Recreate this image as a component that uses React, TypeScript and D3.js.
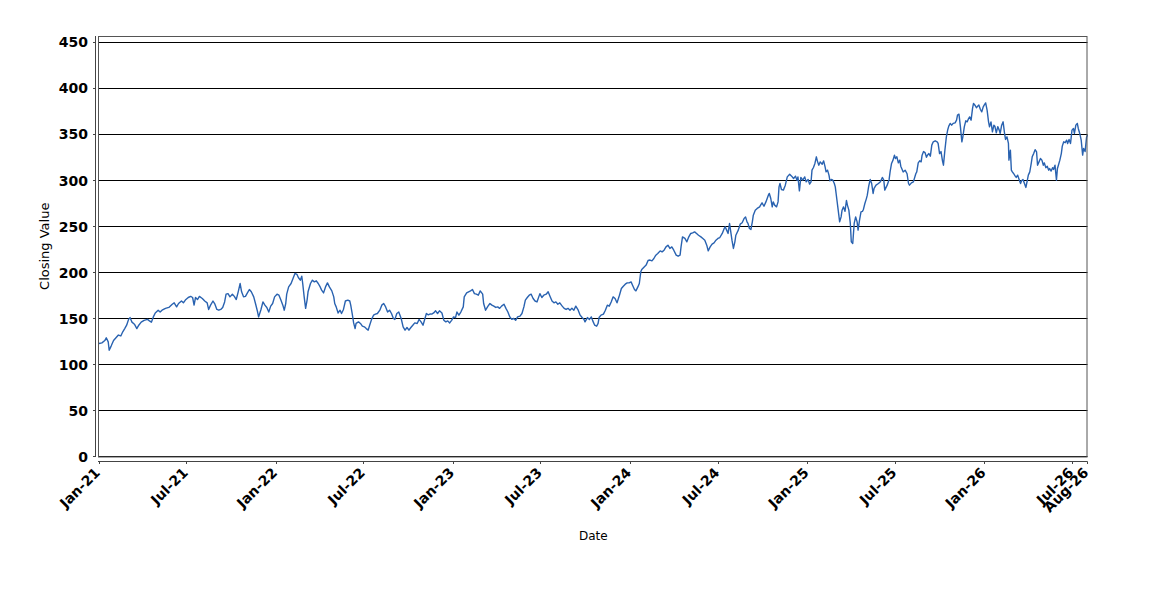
import * as d3 from 'd3';

// Closing values, grouped by year: [date, close]
const closes2021: [string, number][] = [
  ['2021-01-01', 122.8], ['2021-01-07', 123.5], ['2021-01-13', 126], ['2021-01-16', 129], ['2021-01-20', 124.6],
  ['2021-01-22', 115.5], ['2021-01-26', 120], ['2021-01-31', 126], ['2021-02-05', 129], ['2021-02-10', 132],
  ['2021-02-15', 131], ['2021-02-19', 135.5], ['2021-02-23', 139], ['2021-02-27', 142.7], ['2021-03-03', 149],
  ['2021-03-06', 151], ['2021-03-10', 146], ['2021-03-15', 143.8], ['2021-03-20', 139], ['2021-03-24', 142.7],
  ['2021-03-29', 146], ['2021-04-04', 148], ['2021-04-11', 149], ['2021-04-15', 147.4], ['2021-04-19', 146],
  ['2021-04-23', 151.7], ['2021-04-27', 156], ['2021-05-03', 159], ['2021-05-07', 157], ['2021-05-11', 159],
  ['2021-05-18', 161], ['2021-05-25', 162], ['2021-06-01', 165.5], ['2021-06-05', 167], ['2021-06-10', 162.6],
  ['2021-06-14', 166.3], ['2021-06-20', 169], ['2021-06-24', 167], ['2021-06-28', 170], ['2021-07-04', 172.8],
  ['2021-07-09', 174], ['2021-07-13', 172.8], ['2021-07-16', 164.5], ['2021-07-19', 172.8], ['2021-07-23', 170.6],
  ['2021-07-27', 174], ['2021-08-02', 171.7], ['2021-08-07', 169], ['2021-08-12', 167], ['2021-08-15', 159.8],
  ['2021-08-19', 164.5], ['2021-08-24', 169], ['2021-08-28', 165.5], ['2021-09-01', 159.8], ['2021-09-05', 159],
  ['2021-09-09', 159.8], ['2021-09-13', 162], ['2021-09-17', 168], ['2021-09-20', 176.4], ['2021-09-24', 177],
  ['2021-09-28', 173.5], ['2021-10-03', 176.4], ['2021-10-07', 174], ['2021-10-11', 170.6], ['2021-10-15', 179],
  ['2021-10-19', 188], ['2021-10-22', 179], ['2021-10-26', 173.5], ['2021-10-30', 174], ['2021-11-03', 177.8],
  ['2021-11-07', 181.5], ['2021-11-11', 179], ['2021-11-16', 173.5], ['2021-11-20', 165.5], ['2021-11-24', 157],
  ['2021-11-26', 151.7], ['2021-12-01', 159.8], ['2021-12-05', 168], ['2021-12-09', 164.5], ['2021-12-13', 162],
  ['2021-12-17', 157], ['2021-12-21', 163.4], ['2021-12-25', 166.3], ['2021-12-29', 173.5],
];

const closes2022: [string, number][] = [
  ['2022-01-03', 176.4], ['2022-01-07', 175.3], ['2022-01-11', 170], ['2022-01-15', 164.5], ['2022-01-18', 159],
  ['2022-01-21', 166.3], ['2022-01-23', 176.4], ['2022-01-27', 184.3], ['2022-02-01', 188], ['2022-02-05', 193.5],
  ['2022-02-09', 199], ['2022-02-13', 198], ['2022-02-16', 194.5], ['2022-02-20', 191.6], ['2022-02-23', 196],
  ['2022-02-25', 188], ['2022-02-28', 173.5], ['2022-03-03', 161], ['2022-03-06', 170], ['2022-03-08', 179],
  ['2022-03-13', 188], ['2022-03-17', 191.6], ['2022-03-21', 189.8], ['2022-03-25', 190.9], ['2022-03-29', 188],
  ['2022-04-02', 184.3], ['2022-04-05', 180.8], ['2022-04-09', 177.8], ['2022-04-13', 184.3], ['2022-04-17', 188.7],
  ['2022-04-21', 184.3], ['2022-04-26', 180], ['2022-04-30', 173.5], ['2022-05-02', 166.3], ['2022-05-05', 162.6],
  ['2022-05-09', 156], ['2022-05-13', 159], ['2022-05-16', 155.4], ['2022-05-20', 159.8], ['2022-05-24', 169],
  ['2022-05-29', 170], ['2022-06-02', 169], ['2022-06-04', 164.5], ['2022-06-07', 155.4], ['2022-06-10', 145.2],
  ['2022-06-13', 139], ['2022-06-15', 144.6], ['2022-06-20', 146.3], ['2022-06-24', 144.6], ['2022-06-28', 141.6],
  ['2022-07-02', 140.9], ['2022-07-06', 139], ['2022-07-10', 137.3], ['2022-07-13', 142.7], ['2022-07-17', 149],
  ['2022-07-21', 153.6], ['2022-07-25', 154.7], ['2022-07-29', 155.4], ['2022-08-03', 159], ['2022-08-07', 164.5],
  ['2022-08-11', 166.3], ['2022-08-15', 162.6], ['2022-08-19', 157], ['2022-08-23', 159], ['2022-08-27', 155.4],
  ['2022-08-31', 150], ['2022-09-03', 149], ['2022-09-07', 155.4], ['2022-09-11', 157], ['2022-09-16', 150],
  ['2022-09-20', 140.9], ['2022-09-24', 137.3], ['2022-09-28', 140.2], ['2022-10-02', 137.3], ['2022-10-06', 140.2],
  ['2022-10-10', 142.7], ['2022-10-14', 145.2], ['2022-10-19', 144.6], ['2022-10-23', 149], ['2022-10-27', 146.3],
  ['2022-10-31', 142.7], ['2022-11-03', 148], ['2022-11-07', 155.4], ['2022-11-11', 154], ['2022-11-15', 155],
  ['2022-11-18', 154.7], ['2022-11-22', 156], ['2022-11-26', 158.3], ['2022-11-30', 155.4], ['2022-12-04', 158.3],
  ['2022-12-09', 156], ['2022-12-13', 148], ['2022-12-17', 146.3], ['2022-12-21', 147.4], ['2022-12-25', 145.2],
  ['2022-12-29', 148],
];

const closes2023: [string, number][] = [
  ['2023-01-02', 151.7], ['2023-01-06', 151], ['2023-01-09', 157], ['2023-01-13', 153.6], ['2023-01-17', 157],
  ['2023-01-22', 162.6], ['2023-01-24', 173.5], ['2023-01-29', 177.8], ['2023-02-02', 179], ['2023-02-06', 180],
  ['2023-02-10', 181.5], ['2023-02-14', 177], ['2023-02-18', 176.4], ['2023-02-22', 175.3], ['2023-02-26', 180],
  ['2023-03-03', 176.4], ['2023-03-05', 166.3], ['2023-03-09', 159], ['2023-03-14', 163.4], ['2023-03-18', 166.3],
  ['2023-03-22', 164.5], ['2023-03-26', 163.4], ['2023-03-30', 162], ['2023-04-03', 162.6], ['2023-04-07', 161],
  ['2023-04-11', 163.4], ['2023-04-16', 165.5], ['2023-04-20', 161], ['2023-04-24', 157], ['2023-04-28', 151.7],
  ['2023-05-02', 149], ['2023-05-06', 150], ['2023-05-10', 148], ['2023-05-14', 151.7], ['2023-05-19', 152.5],
  ['2023-05-23', 155.4], ['2023-05-27', 162.6], ['2023-05-30', 170], ['2023-06-03', 172.8], ['2023-06-07', 175.3],
  ['2023-06-11', 176.4], ['2023-06-15', 171.7], ['2023-06-19', 169], ['2023-06-23', 168], ['2023-06-29', 177],
  ['2023-07-03', 172.8], ['2023-07-07', 175.3], ['2023-07-12', 176.4], ['2023-07-16', 179], ['2023-07-20', 174],
  ['2023-07-24', 169], ['2023-07-28', 167], ['2023-08-01', 168], ['2023-08-05', 165.5], ['2023-08-09', 167],
  ['2023-08-14', 163.4], ['2023-08-18', 161], ['2023-08-22', 159.8], ['2023-08-26', 161], ['2023-08-30', 159],
  ['2023-09-03', 161], ['2023-09-07', 159], ['2023-09-11', 163.4], ['2023-09-16', 159], ['2023-09-20', 153.6],
  ['2023-09-24', 151], ['2023-09-28', 149], ['2023-09-30', 146.3], ['2023-10-05', 151], ['2023-10-09', 149],
  ['2023-10-13', 151.7], ['2023-10-16', 147.4], ['2023-10-20', 142.7], ['2023-10-24', 141.6], ['2023-10-27', 144.6],
  ['2023-10-29', 151], ['2023-11-02', 153.6], ['2023-11-07', 154.7], ['2023-11-11', 159], ['2023-11-15', 164.5],
  ['2023-11-19', 163.4], ['2023-11-23', 168], ['2023-11-27', 173.5], ['2023-12-01', 171.7], ['2023-12-05', 167],
  ['2023-12-10', 175.3], ['2023-12-14', 182.6], ['2023-12-18', 185.1], ['2023-12-22', 187.3], ['2023-12-26', 188.7],
  ['2023-12-30', 188.7],
];

const closes2024: [string, number][] = [
  ['2024-01-03', 189.8], ['2024-01-06', 186.2], ['2024-01-10', 181.5], ['2024-01-13', 180], ['2024-01-17', 184.3],
  ['2024-01-20', 188], ['2024-01-23', 200.7], ['2024-01-25', 203.3], ['2024-01-30', 206], ['2024-02-03', 208],
  ['2024-02-07', 213], ['2024-02-11', 213.5], ['2024-02-15', 212.6], ['2024-02-19', 215.2], ['2024-02-23', 218.8],
  ['2024-02-27', 220.6], ['2024-03-03', 223.5], ['2024-03-07', 222.4], ['2024-03-11', 224.2], ['2024-03-15', 227.8],
  ['2024-03-19', 229.7], ['2024-03-23', 226.1], ['2024-03-27', 227.8], ['2024-03-31', 224.2], ['2024-04-05', 218.8],
  ['2024-04-09', 217.7], ['2024-04-13', 218.8], ['2024-04-15', 227.8], ['2024-04-18', 238.7], ['2024-04-23', 237],
  ['2024-04-27', 233.3], ['2024-05-01', 238.7], ['2024-05-05', 242.4], ['2024-05-09', 243], ['2024-05-13', 244.1],
  ['2024-05-17', 242.4], ['2024-05-21', 240.5], ['2024-05-26', 238.7], ['2024-05-30', 237], ['2024-06-03', 235.1],
  ['2024-06-07', 229.7], ['2024-06-10', 223.5], ['2024-06-14', 227.8], ['2024-06-18', 230.8], ['2024-06-22', 232.2],
  ['2024-06-26', 235.1], ['2024-06-30', 237], ['2024-07-04', 238], ['2024-07-09', 242.4], ['2024-07-13', 247.8],
  ['2024-07-15', 249.7], ['2024-07-18', 246], ['2024-07-21', 242.4], ['2024-07-24', 253.3], ['2024-07-26', 246],
  ['2024-07-29', 235.1], ['2024-08-01', 226.1], ['2024-08-04', 233.3], ['2024-08-06', 240.5], ['2024-08-11', 246],
  ['2024-08-15', 252.5], ['2024-08-19', 254], ['2024-08-23', 258.7], ['2024-08-26', 260.4], ['2024-08-29', 255],
  ['2024-08-31', 253.3], ['2024-09-03', 247.8], ['2024-09-06', 246.7], ['2024-09-09', 255], ['2024-09-11', 262.3],
  ['2024-09-15', 267.7], ['2024-09-19', 269.6], ['2024-09-24', 271.3], ['2024-09-26', 273.2], ['2024-09-29', 275.7],
  ['2024-10-03', 272], ['2024-10-07', 276.7], ['2024-10-12', 284], ['2024-10-14', 285.9], ['2024-10-17', 280.4],
  ['2024-10-20', 271.3], ['2024-10-22', 276.7], ['2024-10-25', 273.2], ['2024-10-29', 271.3], ['2024-11-01', 276.7],
  ['2024-11-03', 293], ['2024-11-05', 296.7], ['2024-11-08', 290.2], ['2024-11-12', 289.5], ['2024-11-16', 294.9],
  ['2024-11-20', 303.9], ['2024-11-25', 306.8], ['2024-11-29', 304.7], ['2024-12-03', 302.2], ['2024-12-07', 304.7],
  ['2024-12-10', 300.3], ['2024-12-12', 303.9], ['2024-12-15', 288.7], ['2024-12-18', 303.3], ['2024-12-22', 300.3],
  ['2024-12-26', 303.9], ['2024-12-29', 298.5],
];

const closes2025: [string, number][] = [
  ['2025-01-02', 301.1], ['2025-01-05', 296], ['2025-01-08', 298.5], ['2025-01-10', 311.2], ['2025-01-13', 314.1],
  ['2025-01-16', 318.5], ['2025-01-19', 325.7], ['2025-01-21', 321.3], ['2025-01-24', 316.6], ['2025-01-27', 320.2],
  ['2025-01-31', 317.7], ['2025-02-03', 321.3], ['2025-02-06', 314.8], ['2025-02-08', 309.3], ['2025-02-11', 311.2],
  ['2025-02-14', 305.8], ['2025-02-16', 299.6], ['2025-02-19', 301.1], ['2025-02-22', 300.3], ['2025-02-25', 296.7],
  ['2025-02-27', 293], ['2025-03-02', 280.4], ['2025-03-05', 267.7], ['2025-03-08', 255], ['2025-03-11', 260.4],
  ['2025-03-13', 267.7], ['2025-03-16', 271.3], ['2025-03-19', 266.4], ['2025-03-22', 278.2], ['2025-03-24', 273.2],
  ['2025-03-27', 267.7], ['2025-03-30', 253.3], ['2025-04-01', 233.3], ['2025-04-04', 231.5], ['2025-04-07', 253.3],
  ['2025-04-10', 260.4], ['2025-04-13', 255], ['2025-04-15', 246], ['2025-04-18', 256.8], ['2025-04-21', 265.9],
  ['2025-04-24', 266.4], ['2025-04-26', 268.5], ['2025-04-29', 275], ['2025-05-02', 280], ['2025-05-04', 284],
  ['2025-05-07', 294], ['2025-05-10', 301.1], ['2025-05-13', 296.7], ['2025-05-16', 285.9], ['2025-05-18', 291.3],
  ['2025-05-22', 294.9], ['2025-05-27', 296.7], ['2025-05-31', 298.5], ['2025-06-04', 303.3], ['2025-06-07', 300.3],
  ['2025-06-09', 289.5], ['2025-06-14', 294.9], ['2025-06-18', 301.1], ['2025-06-20', 309.3], ['2025-06-23', 318.5],
  ['2025-06-26', 322.1], ['2025-06-29', 327.5], ['2025-07-01', 323.9], ['2025-07-04', 325.7], ['2025-07-07', 319.1],
  ['2025-07-10', 322.1], ['2025-07-12', 315.5], ['2025-07-17', 309.3], ['2025-07-21', 311.2], ['2025-07-25', 307.3],
  ['2025-07-28', 296.7], ['2025-07-30', 294.9], ['2025-08-03', 297.4], ['2025-08-07', 298.5], ['2025-08-12', 307.3],
  ['2025-08-14', 309.3], ['2025-08-17', 319.1], ['2025-08-20', 321.3], ['2025-08-23', 320.2], ['2025-08-25', 327.5],
  ['2025-08-28', 331.4], ['2025-08-31', 330.3], ['2025-09-03', 325.3], ['2025-09-05', 327.5], ['2025-09-08', 329.2],
  ['2025-09-11', 326.4], ['2025-09-14', 338.4], ['2025-09-17', 342], ['2025-09-21', 343.1], ['2025-09-25', 342],
  ['2025-09-27', 340.2], ['2025-09-30', 329.2], ['2025-10-03', 331.4], ['2025-10-06', 321.3], ['2025-10-08', 316.6],
  ['2025-10-11', 333], ['2025-10-14', 347.4], ['2025-10-17', 355.4], ['2025-10-19', 359], ['2025-10-22', 362],
  ['2025-10-25', 360.1], ['2025-10-28', 362], ['2025-11-01', 362.6], ['2025-11-04', 365.5], ['2025-11-06', 371],
  ['2025-11-09', 372.1], ['2025-11-12', 358.3], ['2025-11-15', 342], ['2025-11-17', 347.4], ['2025-11-20', 358.3],
  ['2025-11-23', 364.8], ['2025-11-26', 363.7], ['2025-11-28', 366.3], ['2025-12-01', 369.1], ['2025-12-04', 365.5],
  ['2025-12-07', 378.3], ['2025-12-09', 383.7], ['2025-12-12', 381.8], ['2025-12-15', 379], ['2025-12-18', 381],
  ['2025-12-20', 382], ['2025-12-23', 377.4], ['2025-12-26', 374.6], ['2025-12-29', 380], ['2025-12-31', 381.8],
];

const closes2026: [string, number][] = [
  ['2026-01-03', 384.3], ['2026-01-06', 376.4], ['2026-01-09', 363.7], ['2026-01-11', 358.3], ['2026-01-14', 363.7],
  ['2026-01-17', 352.8], ['2026-01-20', 360.1], ['2026-01-22', 359], ['2026-01-25', 351.7], ['2026-01-28', 358.5],
  ['2026-01-31', 354.7], ['2026-02-02', 351.1], ['2026-02-05', 360.1], ['2026-02-08', 363.7], ['2026-02-11', 351.1],
  ['2026-02-13', 344.6], ['2026-02-16', 347.4], ['2026-02-19', 340.2], ['2026-02-20', 322.1], ['2026-02-23', 333],
  ['2026-02-25', 311.2], ['2026-02-27', 309.3], ['2026-03-02', 307.3], ['2026-03-05', 304.7], ['2026-03-07', 303.3],
  ['2026-03-10', 305.8], ['2026-03-13', 301.1], ['2026-03-16', 296.7], ['2026-03-18', 299.6], ['2026-03-21', 301.1],
  ['2026-03-24', 296.7], ['2026-03-27', 292.4], ['2026-03-30', 300.3], ['2026-04-01', 305.8], ['2026-04-04', 309.3],
  ['2026-04-07', 318.5], ['2026-04-09', 325.7], ['2026-04-12', 329.2], ['2026-04-15', 333.5], ['2026-04-18', 331],
  ['2026-04-20', 316.6], ['2026-04-23', 320.2], ['2026-04-26', 323.9], ['2026-04-29', 322.1], ['2026-05-02', 316.6],
  ['2026-05-04', 319.1], ['2026-05-07', 313.9], ['2026-05-10', 315.5], ['2026-05-13', 311.2], ['2026-05-15', 313],
  ['2026-05-18', 310.2], ['2026-05-21', 313.9], ['2026-05-23', 312], ['2026-05-26', 316.6], ['2026-05-29', 300.3],
  ['2026-05-31', 313], ['2026-06-02', 316.6], ['2026-06-05', 322.1], ['2026-06-08', 329.2], ['2026-06-10', 337.3],
  ['2026-06-13', 342], ['2026-06-16', 341.1], ['2026-06-19', 343.8], ['2026-06-21', 340.2], ['2026-06-24', 344.6],
  ['2026-06-27', 340.2], ['2026-06-30', 354.7], ['2026-07-03', 356.5], ['2026-07-05', 351.1], ['2026-07-08', 360.1],
  ['2026-07-11', 362], ['2026-07-13', 356.5], ['2026-07-16', 351.1], ['2026-07-19', 343.8], ['2026-07-22', 327.5],
  ['2026-07-24', 334.8], ['2026-07-27', 331.4], ['2026-07-30', 346.6], ['2026-08-01', 349.3],
];

const yTicks = [0, 50, 100, 150, 200, 250, 300, 350, 400, 450];
const yMax = 457;
const xTickDates = [
  '2021-01-01', '2021-07-01', '2022-01-01', '2022-07-01', '2023-01-01', '2023-07-01', '2024-01-01',
  '2024-07-01', '2025-01-01', '2025-07-01', '2026-01-01', '2026-07-01', '2026-08-01',
];

// plot box in page pixels (svg is pinned to the page corner)
const plot = { left: 99, right: 1087.5, top: 36, bottom: 456.5 };

type Point = { date: Date; value: number };

export default function App() {
  const parse = d3.timeParse('%Y-%m-%d');
  const series: Point[] = [...closes2021, ...closes2022, ...closes2023, ...closes2024, ...closes2025, ...closes2026]
    .map(([d, v]) => ({ date: parse(d) as Date, value: v }));

  const x = d3.scaleTime()
    .domain(d3.extent(series, d => d.date) as [Date, Date])
    .range([plot.left, plot.right]);
  const y = d3.scaleLinear().domain([0, yMax]).range([plot.bottom, plot.top]);

  const linePath = d3.line<Point>()
    .x(d => x(d.date))
    .y(d => y(d.value))(series) || '';

  const fmt = d3.timeFormat('%b-%y');
  const crisp = (v: number) => Math.floor(v) + 0.5;
  const axisX = 95.5;
  const axisY = 461.5;
  const tickFont = { fontFamily: "'DejaVu Sans', sans-serif", fontSize: 14, fontWeight: 'bold' as const, fill: '#000' };

  return (
    <svg
      width={1150}
      height={600}
      style={{ position: 'absolute', left: 0, top: 0, background: '#fff' }}
    >
      {/* gridlines */}
      {yTicks.map(t => (
        <line key={`g${t}`} x1={plot.left} x2={plot.right} y1={crisp(y(t))} y2={crisp(y(t))}
          stroke="#000" strokeWidth={1} />
      ))}

      {/* series */}
      <path d={linePath} fill="none" stroke="#2962b0" strokeWidth={1.4} strokeLinejoin="round" />

      {/* plot outline */}
      <rect x={plot.left - 0.5} y={plot.top + 0.5} width={plot.right - plot.left} height={plot.bottom - plot.top}
        fill="none" stroke="#555" strokeWidth={1} />

      {/* y axis */}
      <line x1={axisX} x2={axisX} y1={plot.top} y2={plot.bottom + 0.5} stroke="#444" />
      {yTicks.map(t => (
        <g key={`y${t}`}>
          <line x1={axisX - 2.5} x2={axisX} y1={crisp(y(t))} y2={crisp(y(t))} stroke="#444" />
          <text x={88} y={y(t)} dy="0.36em" textAnchor="end" {...tickFont}>{t}</text>
        </g>
      ))}

      {/* x axis */}
      <line x1={plot.left - 1} x2={plot.right} y1={axisY} y2={axisY} stroke="#444" />
      {xTickDates.map(s => {
        const tx = x(parse(s) as Date);
        return (
          <g key={s}>
            <line x1={Math.floor(tx) + 0.5} x2={Math.floor(tx) + 0.5} y1={axisY} y2={axisY + 2.5} stroke="#444" />
            <text transform={`translate(${tx + 2},${axisY + 12}) rotate(-45)`} textAnchor="end" {...tickFont}>
              {fmt(parse(s) as Date)}
            </text>
          </g>
        );
      })}

      {/* axis titles */}
      <text x={(plot.left + plot.right) / 2} y={540} textAnchor="middle"
        fontFamily="'DejaVu Sans', sans-serif" fontSize={12}>Date</text>
      <text transform={`translate(49,${(plot.top + plot.bottom) / 2}) rotate(-90)`} textAnchor="middle"
        fontFamily="'DejaVu Sans', sans-serif" fontSize={13}>Closing Value</text>
    </svg>
  );
}
